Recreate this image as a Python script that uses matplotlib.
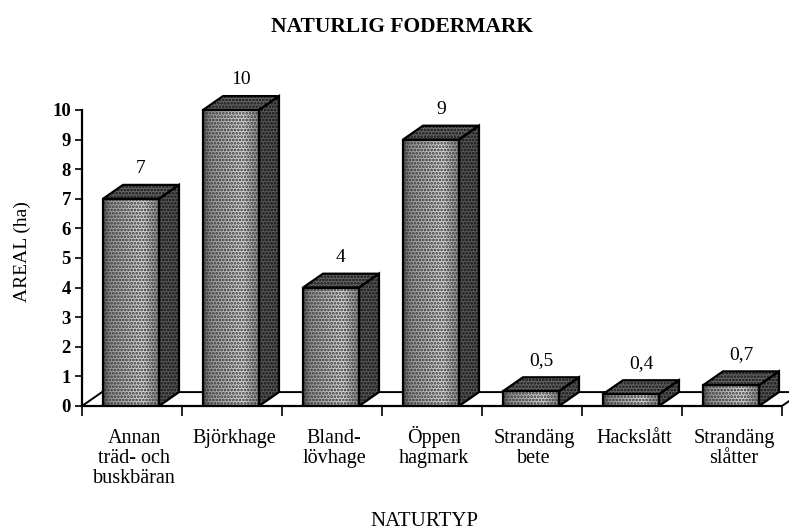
import matplotlib
matplotlib.use("Agg")
import numpy as np
import matplotlib.pyplot as plt
from matplotlib.patches import Polygon

plt.rcParams['font.family'] = ['Liberation Serif', 'DejaVu Serif']
plt.rcParams['hatch.linewidth'] = 1.3

# areal per naturtyp
categories = ["Annan\nträd- och\nbuskbäran", "Björkhage", "Bland-\nlövhage",
              "Öppen\nhagmark", "Strandäng\nbete", "Hackslått", "Strandäng\nslåtter"]
areas = [7, 10, 4, 9, 0.5, 0.4, 0.7]
value_labels = ["7", "10", "4", "9", "0,5", "0,4", "0,7"]
yticks = list(range(0, 11))

# 3d look: bar width/offset and depth shift (x in categories, y in ha)
bar_w = 0.56
bar_off = 0.21
dx, dy = 0.2, 0.47

fig = plt.figure(figsize=(7.89, 5.32), dpi=100)
ax = fig.add_axes([82 / 789, 126 / 532, 707 / 789, 11 * 29.6 / 532])

# shading across the front face: dark edge, light band towards the right
u = np.linspace(0, 1, 200)
shade = np.interp(u, [0, 0.06, 0.12, 0.72, 0.86, 1.0],
                  [0.30, 0.45, 0.58, 0.85, 0.68, 0.55])
shade_img = np.tile(shade, (2, 1))


def face(pts, fc, hatch_col, z):
    # stippled fill plus a black outline
    ax.add_patch(Polygon(pts, closed=True, facecolor=fc, edgecolor=hatch_col,
                         hatch='.....', linewidth=0, zorder=z))
    ax.add_patch(Polygon(pts, closed=True, facecolor='none', edgecolor='black',
                         linewidth=1.6, zorder=z + 0.2))


# floor
n = len(categories)
floor = [(0, 0), (n, 0), (n + dx, dy), (dx, dy)]
ax.add_patch(Polygon(floor, closed=True, facecolor='white', edgecolor='black',
                     linewidth=1.4, zorder=1))

for i, (v, lab) in enumerate(zip(areas, value_labels)):
    x0 = i + bar_off
    x1 = x0 + bar_w
    front = [(x0, 0), (x1, 0), (x1, v), (x0, v)]
    side = [(x1, 0), (x1 + dx, dy), (x1 + dx, v + dy), (x1, v)]
    top = [(x0, v), (x1, v), (x1 + dx, v + dy), (x0 + dx, v + dy)]
    face(side, '#585858', '#111111', 3)
    face(top, '#666666', '#111111', 3)
    ax.imshow(shade_img, cmap='gray', vmin=0, vmax=1, aspect='auto',
              extent=(x0, x1, 0, v), zorder=4, interpolation='bilinear')
    ax.add_patch(Polygon(front, closed=True, facecolor='none', edgecolor='#333333',
                         hatch='.....', linewidth=0, zorder=4.1))
    ax.add_patch(Polygon(front, closed=True, facecolor='none', edgecolor='black',
                         linewidth=1.6, zorder=4.2))
    ax.text(i + 0.59, v + dy + 0.55, lab, ha='center', va='center',
            fontsize=14, clip_on=False)

ax.set_xlim(0, 7.07)
ax.set_ylim(0, 11)

# axes
for s in ['top', 'right']:
    ax.spines[s].set_visible(False)
ax.spines['left'].set_bounds(0, 10)
ax.spines['bottom'].set_bounds(0, n)
for s in ['left', 'bottom']:
    ax.spines[s].set_linewidth(1.6)
    ax.spines[s].set_zorder(5)

ax.set_yticks(yticks)
ax.set_yticklabels([str(t) for t in yticks], fontsize=13.5, fontweight='bold')
ax.tick_params(axis='y', direction='out', length=5, width=1.2, pad=3)

ax.set_xticks(range(n + 1))
ax.set_xticklabels([])
ax.tick_params(axis='x', which='major', direction='out', length=7, width=1.2)

# category names, one line at a time so all lines share baselines
for i, cat in enumerate(categories):
    for k, line in enumerate(cat.split("\n")):
        ax.annotate(line, xy=(i + 0.52, 0), xycoords=('data', 'axes fraction'),
                    xytext=(0, -37 - 20 * k), textcoords='offset pixels',
                    ha='center', va='baseline', fontsize=14.5,
                    annotation_clip=False)

ax.set_ylabel("AREAL (ha)", fontsize=14)
ax.yaxis.set_label_coords(-0.072, 0.475)

fig.text(424 / 789, 1 - 521 / 532, "NATURTYP", ha='center', va='center', fontsize=15)
fig.text(402 / 789, 1 - 27 / 532, "NATURLIG FODERMARK", ha='center', va='center',
         fontsize=15.5, fontweight='bold')

fig.savefig("out.png", dpi=100)
